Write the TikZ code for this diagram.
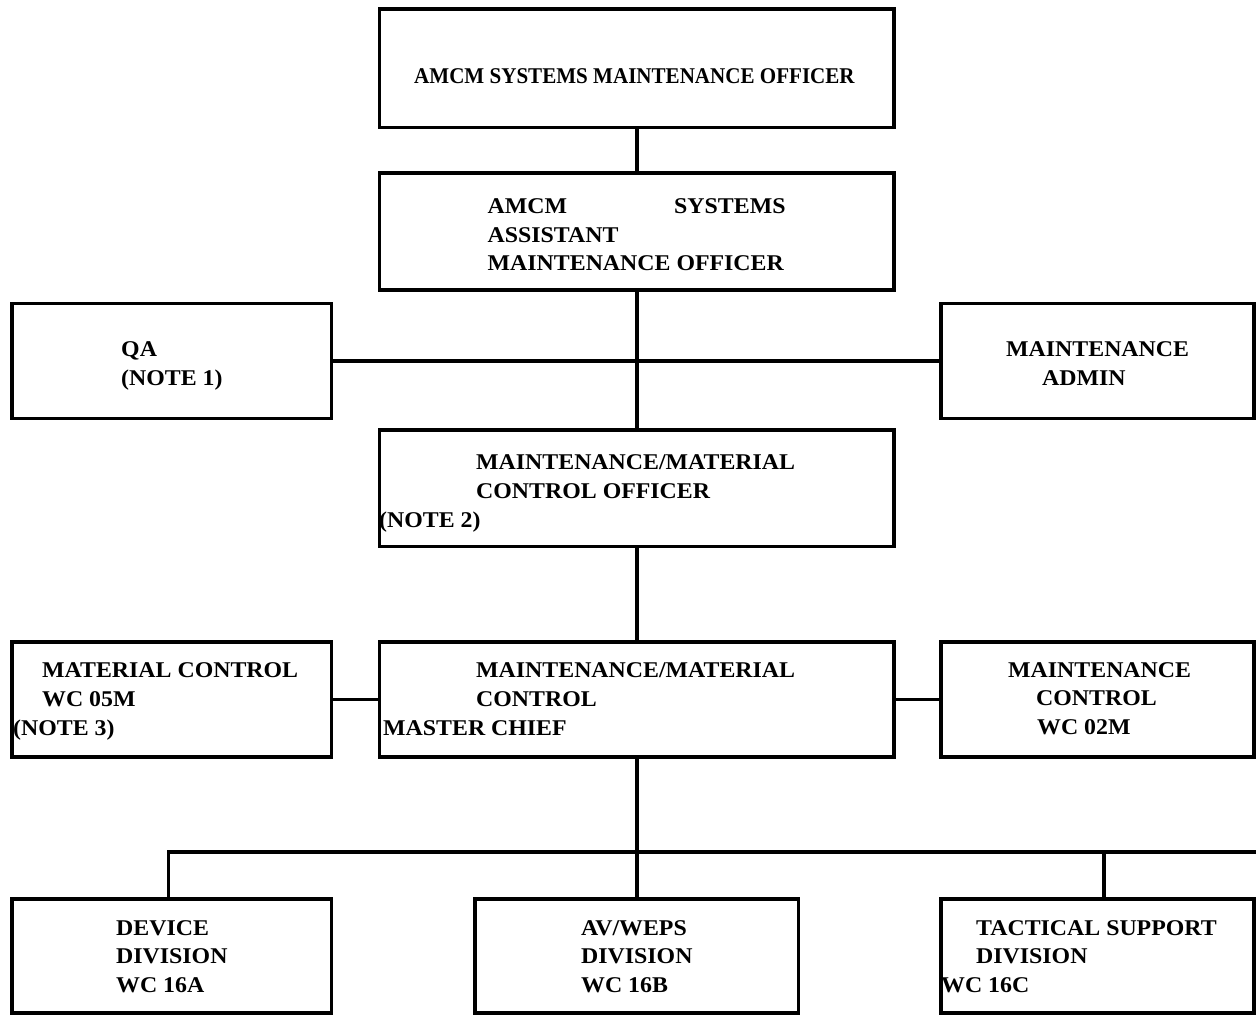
\documentclass[tikz,border=0pt]{standalone}
\usepackage{fontspec}
\setmainfont[FakeStretch=1.06]{Liberation Serif}
\newfontfamily\topfont[FakeStretch=0.936]{Liberation Serif}
\begin{document}
\begin{tikzpicture}[x=1pt,y=-1pt,
  box/.style={draw,line width=3.6pt,rectangle,anchor=north west,inner sep=0pt,outer sep=0pt},
  txt/.style={anchor=base west,inner sep=0pt,font=\fontsize{22.5}{28}\selectfont\bfseries},
  conn/.style={line width=3.6pt}]
\useasboundingbox (0,0) rectangle (1256,1015);
% boxes
\node[box,minimum width=514.5pt,minimum height=118.5pt] (b1) at (379.5,9) {};
\node[box,minimum width=514.5pt,minimum height=117pt] (b2) at (379.5,173) {};
\node[box,minimum width=319.5pt,minimum height=115pt] (qa) at (12,303.5) {};
\node[box,minimum width=313pt,minimum height=115pt] (adm) at (941,303.5) {};
\node[box,minimum width=514.5pt,minimum height=116.5pt] (mmco) at (379.5,430) {};
\node[box,minimum width=319.5pt,minimum height=115pt] (matc) at (12,642) {};
\node[box,minimum width=514.5pt,minimum height=115pt] (mmcc) at (379.5,642) {};
\node[box,minimum width=313pt,minimum height=115pt] (mc) at (941,642) {};
\node[box,minimum width=319.5pt,minimum height=114pt] (dev) at (12,899) {};
\node[box,minimum width=323.5pt,minimum height=114pt] (av) at (475,899) {};
\node[box,minimum width=313pt,minimum height=114pt] (tac) at (941,899) {};
% texts
\node[txt,font=\fontsize{22.5}{28}\selectfont\bfseries\topfont] (t1) at (414,83) {AMCM SYSTEMS MAINTENANCE OFFICER};
\node[txt] (t2a) at (487.5,213) {AMCM};
\node[txt] (t2b) at (674,213) {SYSTEMS};
\node[txt] (t2c) at (487.5,242) {ASSISTANT};
\node[txt] (t2d) at (487.5,270.5) {MAINTENANCE OFFICER};
\node[txt] (tqa1) at (121,356.5) {QA};
\node[txt] (tqa2) at (121,385.5) {(NOTE 1)};
\node[txt] (tad1) at (1006,356.5) {MAINTENANCE};
\node[txt] (tad2) at (1042,385.5) {ADMIN};
\node[txt] (tmo1) at (476,469) {MAINTENANCE/MATERIAL};
\node[txt] (tmo2) at (476,498) {CONTROL OFFICER};
\node[txt] (tmo3) at (379,527) {(NOTE 2)};
\node[txt] (tmat1) at (42,677.5) {MATERIAL CONTROL};
\node[txt] (tmat2) at (42,706) {WC 05M};
\node[txt] (tmat3) at (13,735) {(NOTE 3)};
\node[txt] (tmm1) at (476,677.5) {MAINTENANCE/MATERIAL};
\node[txt] (tmm2) at (476,706) {CONTROL};
\node[txt] (tmm3) at (383,735) {MASTER CHIEF};
\node[txt] (tmc1) at (1008,677) {MAINTENANCE};
\node[txt] (tmc2) at (1036,705.5) {CONTROL};
\node[txt] (tmc3) at (1037,734.5) {WC 02M};
\node[txt] (td1) at (116,935) {DEVICE};
\node[txt] (td2) at (116,963.5) {DIVISION};
\node[txt] (td3) at (116,992) {WC 16A};
\node[txt] (tav1) at (581,935) {AV/WEPS};
\node[txt] (tav2) at (581,963.5) {DIVISION};
\node[txt] (tav3) at (581,992) {WC 16B};
\node[txt] (tt1) at (976,935) {TACTICAL SUPPORT};
\node[txt] (tt2) at (976,963.5) {DIVISION};
\node[txt] (tt3) at (941,992) {WC 16C};
% connectors
\coordinate (busL) at (168.5,852);
\coordinate (busR) at (1262,852);
\coordinate (dropT) at (1104,852);
\draw[conn] (b1.south) -- (b2.north);
\draw[conn] (b2.south) -- (mmco.north);
\draw[conn] (qa.east) -- (adm.west);
\draw[conn] (mmco.south) -- (mmcc.north);
\draw[conn] (matc.east) -- (mmcc.west);
\draw[conn] (mmcc.east) -- (mc.west);
\draw[conn] (mmcc.south) -- (mmcc.south |- busL);
\draw[conn] (busL |- dev.north) -- (busL) -- (busR);
\draw[conn] (av.north |- busL) -- (av.north);
\draw[conn] (dropT) -- (dropT |- tac.north);
\end{tikzpicture}
\end{document}
